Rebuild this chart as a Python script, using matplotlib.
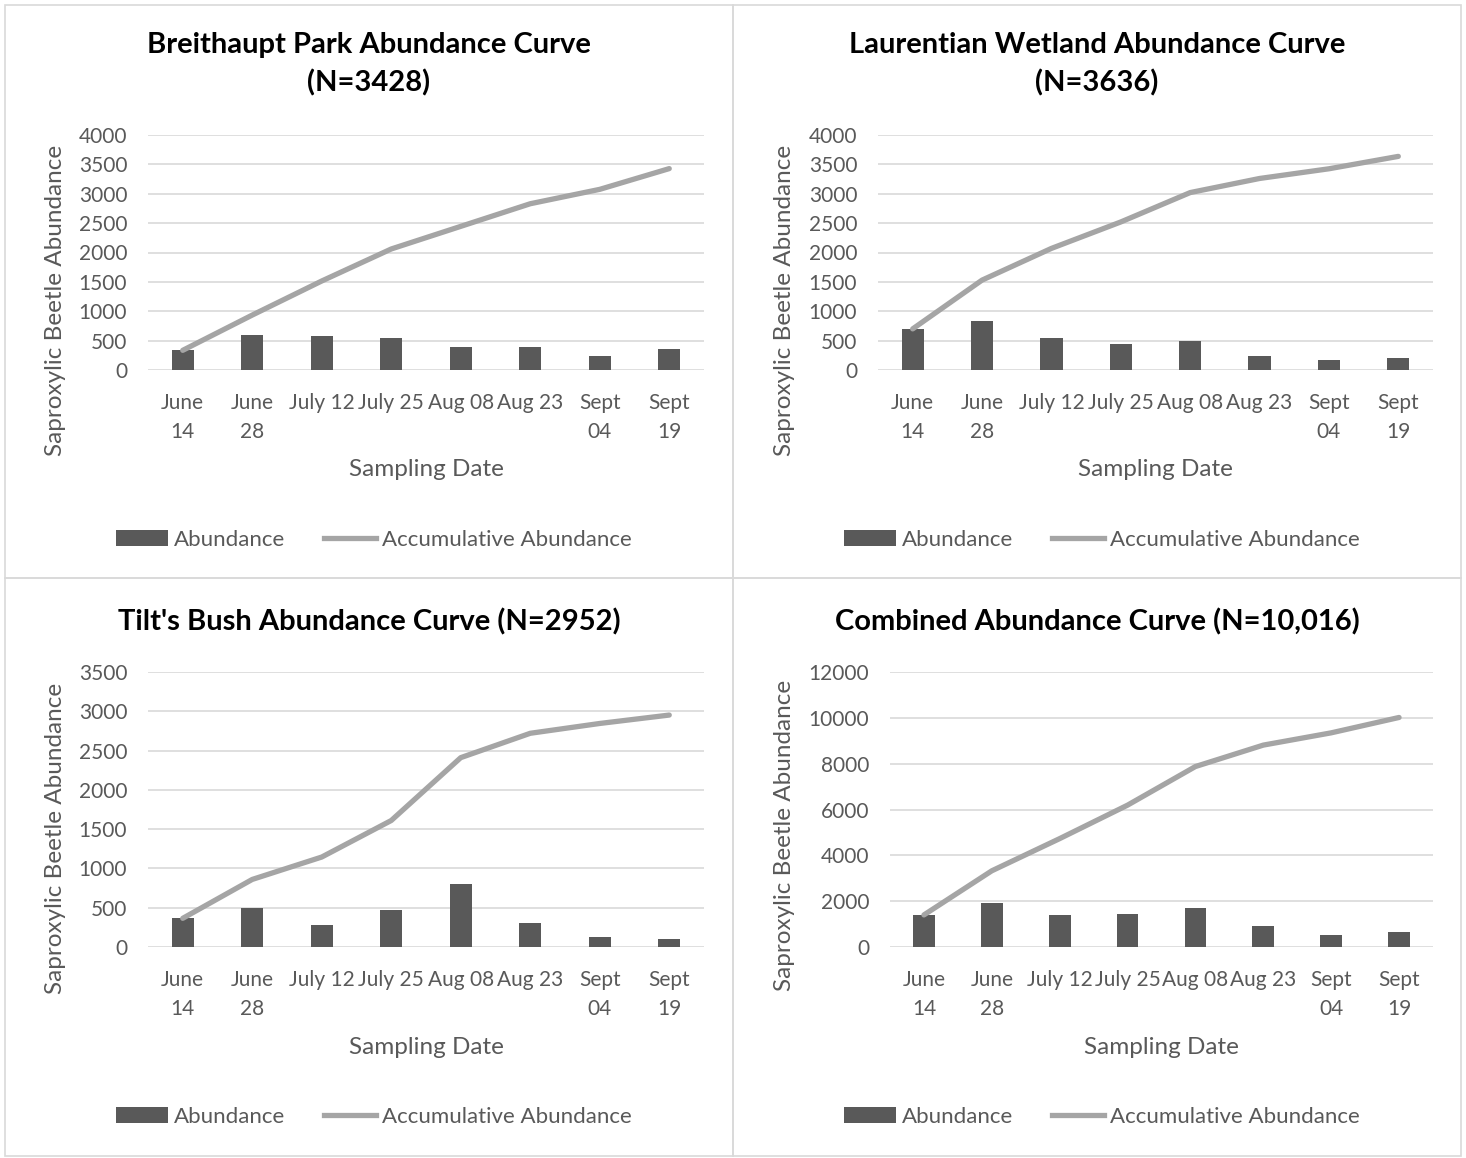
import matplotlib
matplotlib.use('Agg')
import matplotlib.pyplot as plt
from matplotlib.patches import Patch, Rectangle
from matplotlib.lines import Line2D

plt.rcParams['font.family'] = ['Lato', 'DejaVu Sans']

dates = ['June\n14', 'June\n28', 'July 12', 'July 25', 'Aug 08', 'Aug 23', 'Sept\n04', 'Sept\n19']

breithaupt = [335, 600, 580, 545, 385, 385, 245, 353]
breithaupt_cum = [335, 935, 1515, 2060, 2445, 2830, 3075, 3428]

laurentian = [700, 830, 540, 450, 500, 240, 165, 211]
laurentian_cum = [700, 1530, 2070, 2520, 3020, 3260, 3425, 3636]

tilts = [365, 495, 285, 465, 800, 310, 125, 107]
tilts_cum = [365, 860, 1145, 1610, 2410, 2720, 2845, 2952]

combined = [1400, 1925, 1405, 1460, 1685, 935, 535, 671]
combined_cum = [1400, 3325, 4730, 6190, 7875, 8810, 9345, 10016]

titles = ['Breithaupt Park Abundance Curve\n(N=3428)',
          'Laurentian Wetland Abundance Curve\n(N=3636)',
          "Tilt's Bush Abundance Curve (N=2952)",
          'Combined Abundance Curve (N=10,016)']

BAR = '#595959'
LINE = '#A5A5A5'
GRID = '#D9D9D9'
TXT = '#595959'

W, H = 1466, 1158
fig = plt.figure(figsize=(W / 100, H / 100), dpi=100)


def fx(x):
    return x / W


def fy(y):
    return 1 - y / H


# pixel layout of each chart: frame, plot area, title y, y-label x/y, x-label y, legend y
panels = [
    dict(frame=(5, 5, 733, 578), plot=(148, 135, 704, 370), title_y=64, yl=(55, 300), xl_y=470, leg_y=540,
         ymax=4000, step=500),
    dict(frame=(733, 5, 1461, 578), plot=(878, 135, 1433, 370), title_y=64, yl=(785, 300), xl_y=470, leg_y=540,
         ymax=4000, step=500),
    dict(frame=(5, 578, 733, 1156), plot=(148, 672, 704, 947), title_y=622, yl=(55, 838), xl_y=1047, leg_y=1117,
         ymax=3500, step=500),
    dict(frame=(733, 578, 1461, 1156), plot=(890, 672, 1433, 947), title_y=622, yl=(785, 835), xl_y=1047, leg_y=1117,
         ymax=12000, step=2000),
]
series = [(breithaupt, breithaupt_cum), (laurentian, laurentian_cum),
          (tilts, tilts_cum), (combined, combined_cum)]

for p, (bars, cum), title in zip(panels, series, titles):
    x0, y0, x1, y1 = p['frame']
    fig.add_artist(Rectangle((fx(x0), fy(y1)), fx(x1 - x0), (y1 - y0) / H,
                             transform=fig.transFigure, fill=False, edgecolor=GRID, linewidth=1.2))

    px0, py0, px1, py1 = p['plot']
    ax = fig.add_axes([fx(px0), fy(py1), fx(px1 - px0), (py1 - py0) / H])
    xs = range(len(dates))
    ax.bar(xs, bars, width=0.32, color=BAR, zorder=2)
    ax.plot(xs, cum, color=LINE, linewidth=3.8, solid_capstyle='round', zorder=3)

    ax.set_xlim(-0.5, len(dates) - 0.5)
    ax.set_ylim(0, p['ymax'])
    ax.set_yticks(range(0, p['ymax'] + 1, p['step']))
    ax.set_xticks(list(xs))
    ax.set_xticklabels(dates)
    ax.grid(axis='y', color=GRID, linewidth=1.2, zorder=0)
    ax.set_axisbelow(True)
    for s in ax.spines.values():
        s.set_visible(False)
    ax.tick_params(axis='both', length=0, labelsize=15, labelcolor=TXT)
    ax.tick_params(axis='y', pad=15)
    ax.tick_params(axis='x', pad=16.5)
    for t in ax.get_xticklabels():
        t.set_linespacing(1.55)

    cx = (x0 + x1) / 2
    fig.text(fx(cx), fy(p['title_y']), title, ha='center', va='center',
             fontsize=21, fontweight='bold', color='black', linespacing=1.5)
    fig.text(fx(p['yl'][0]), fy(p['yl'][1]), 'Saproxylic Beetle Abundance', rotation=90,
             ha='center', va='center', fontsize=17.5, color=TXT)
    fig.text(fx((px0 + px1) / 2), fy(p['xl_y']), 'Sampling Date', ha='center', va='center',
             fontsize=17.5, color=TXT)

    handles = [Patch(facecolor=BAR, edgecolor='none'),
               Line2D([], [], color=LINE, linewidth=3.8)]
    fig.legend(handles, ['Abundance', 'Accumulative Abundance'], loc='center',
               bbox_to_anchor=(fx(cx + 5), fy(p['leg_y'])), ncol=2, frameon=False,
               fontsize=16, labelcolor=TXT, handlelength=2.35, handletextpad=0.27,
               columnspacing=1.75)

fig.savefig('out.png', dpi=100)
